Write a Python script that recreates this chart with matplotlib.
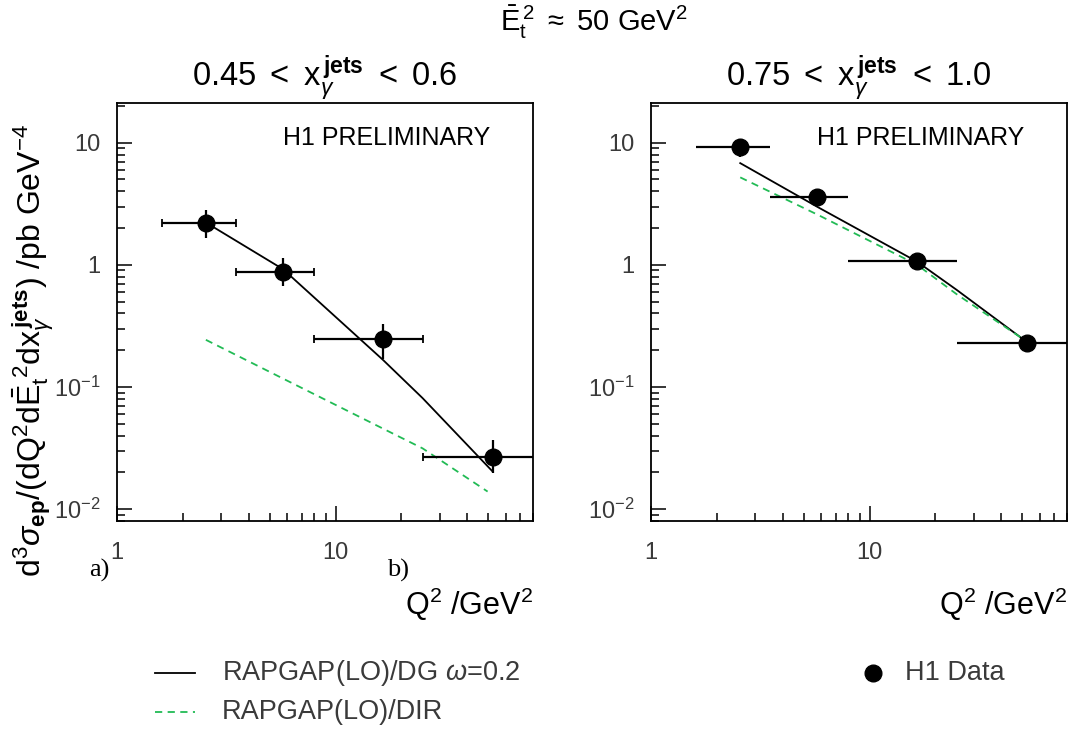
import matplotlib
matplotlib.use("Agg")
import matplotlib.pyplot as plt
import numpy as np

plt.rcParams['font.family'] = ['Liberation Sans', 'DejaVu Sans']
plt.rcParams['mathtext.fontset'] = 'custom'
plt.rcParams['mathtext.rm'] = 'Liberation Sans'
plt.rcParams['mathtext.it'] = 'Liberation Sans:italic'
plt.rcParams['mathtext.bf'] = 'Liberation Sans:bold'

# ---------------- data ----------------
q2_centers = [2.55, 5.75, 16.5, 52.5]
q2_low = [1.61, 3.52, 8.0, 25.0]
q2_high = [3.52, 8.0, 25.0, 100.0]

# panel a) 0.45 < x < 0.6
a_data = [2.22, 0.88, 0.249, 0.0268]
a_err_up = [2.82, 1.135, 0.326, 0.037]
a_err_dn = [1.67, 0.676, 0.170, 0.0196]
a_model_x = [2.55, 5.75, 16.5, 25.0, 52.0]
a_dg = [2.22, 0.92, 0.166, 0.081, 0.0205]
a_dir_x = [2.55, 5.75, 16.5, 25.0, 49.6]
a_dir = [0.243, 0.117, 0.0455, 0.0314, 0.0139]

# panel b) 0.75 < x < 1.0
b_data = [9.3, 3.56, 1.08, 0.231]
b_err_up = [10.8, 3.9, 1.18, 0.25]
b_err_dn = [7.7, 3.25, 0.99, 0.212]
b_model_x = [2.56, 5.79, 16.5, 25.0, 49.3]
b_dg = [6.8, 2.97, 1.06, 0.624, 0.253]
b_dir = [5.2, 2.57, 1.0, 0.575, 0.253]

panel_titles = [r'0.45 $<$ x$_\gamma^{\,\mathbf{jets}}$ $<$ 0.6',
                r'0.75 $<$ x$_\gamma^{\,\mathbf{jets}}$ $<$ 1.0']
y_tick_vals = [0.01, 0.1, 1, 10]
y_tick_labels = [r'10$^{-2}$', r'10$^{-1}$', '1', '10']
x_tick_vals = [1, 10]
x_tick_labels = ['1', '10']

# ---------------- figure ----------------
fig = plt.figure(figsize=(10.7, 7.31), dpi=100)
W, H = 1070, 731
def box(x0, x1, ytop, ybot):
    return [x0 / W, 1 - ybot / H, (x1 - x0) / W, (ybot - ytop) / H]

ax1 = fig.add_axes(box(117, 533, 103, 521))
ax2 = fig.add_axes(box(651, 1067, 103, 521))

green = '#22bb55'
txtgray = '#3a3a3a'

def draw(ax, data, up, dn, mx, dg, dirx, dirv, caps):
    x = np.array(q2_centers)
    y = np.array(data)
    xerr = [x - np.array(q2_low), np.array(q2_high) - x]
    yerr = [y - np.array(dn), np.array(up) - y]
    ax.plot(mx, dg, color='black', lw=1.3, zorder=2)
    ax.plot(dirx, dirv, color=green, lw=1.3, ls=(0, (4, 3)), zorder=2)
    ax.errorbar(x, y, xerr=xerr, fmt='none', ecolor='black', elinewidth=1.6,
                capsize=3 if caps else 0, capthick=1.3, zorder=3)
    ax.errorbar(x, y, yerr=yerr, fmt='none', ecolor='black', elinewidth=1.6,
                capsize=0, zorder=3)
    ax.plot(x, y, 'o', color='black', ms=12, zorder=4)
    ax.set_xscale('log')
    ax.set_yscale('log')
    ax.set_xlim(1, 80)
    ax.set_ylim(10 ** -2.098, 10 ** 1.325)
    ax.tick_params(which='both', direction='in', top=False, right=False,
                   labelsize=17, width=1.1, labelcolor=txtgray)
    ax.tick_params(axis='y', pad=12)
    ax.tick_params(axis='x', pad=15)
    ax.tick_params(which='major', length=11)
    ax.tick_params(which='minor', length=6)
    ax.set_yticks(y_tick_vals)
    ax.set_yticklabels(y_tick_labels)
    ax.set_xticks(x_tick_vals)
    ax.set_xticklabels(x_tick_labels)
    for s in ax.spines.values():
        s.set_linewidth(1.3)
    ax.text(0.897, 0.916, 'H1 PRELIMINARY', transform=ax.transAxes,
            ha='right', va='center', fontsize=18)
    ax.set_xlabel(r'Q$^2$ /GeV$^2$', fontsize=22, loc='right', labelpad=16)

draw(ax1, a_data, a_err_up, a_err_dn, a_model_x, a_dg, a_dir_x, a_dir, True)
draw(ax2, b_data, b_err_up, b_err_dn, b_model_x, b_dg, b_model_x, b_dir, False)

ax1.set_title(panel_titles[0], fontsize=23.5, pad=11)
ax2.set_title(panel_titles[1], fontsize=23.5, pad=11)

fig.text(594 / W, 1 - 22 / H, r'$\bar{\mathrm{E}}_{\mathrm{t}}^{\,2}$ $\approx$ 50 GeV$^2$',
         ha='center', va='center', fontsize=21)

fig.text(33 / W, 1 - 350 / H,
         r'd$^3\sigma_{\mathbf{ep}}$/(dQ$^2$d$\bar{\mathrm{E}}_{\mathrm{t}}^{\ 2}$dx$_\gamma^{\,\mathbf{jets}}$) /pb GeV$^{-4}$',
         rotation=90, ha='center', va='center', fontsize=23)

fig.text(89 / W, 1 - 570 / H, 'a)', fontsize=19, family='Liberation Serif', ha='left', va='center')
fig.text(387 / W, 1 - 570 / H, 'b)', fontsize=19, family='Liberation Serif', ha='left', va='center')

# legend
fig.add_artist(plt.Line2D([155 / W, 195 / W], [1 - 673 / H] * 2, color='black', lw=1.3))
fig.text(222 / W, 1 - 673 / H, r'RAPGAP(LO)/DG $\omega$=0.2', fontsize=19.5, va='center', color=txtgray)
fig.add_artist(plt.Line2D([155 / W, 195 / W], [1 - 712 / H] * 2, color=green, lw=1.3, ls=(0, (4, 3))))
fig.text(222 / W, 1 - 712 / H, 'RAPGAP(LO)/DIR', fontsize=19.5, va='center', color=txtgray)
fig.add_artist(plt.Line2D([873 / W], [1 - 673 / H], marker='o', color='black', ms=12))
fig.text(905 / W, 1 - 673 / H, 'H1 Data', fontsize=19.5, va='center', color=txtgray)

fig.savefig('out.png', dpi=100)
